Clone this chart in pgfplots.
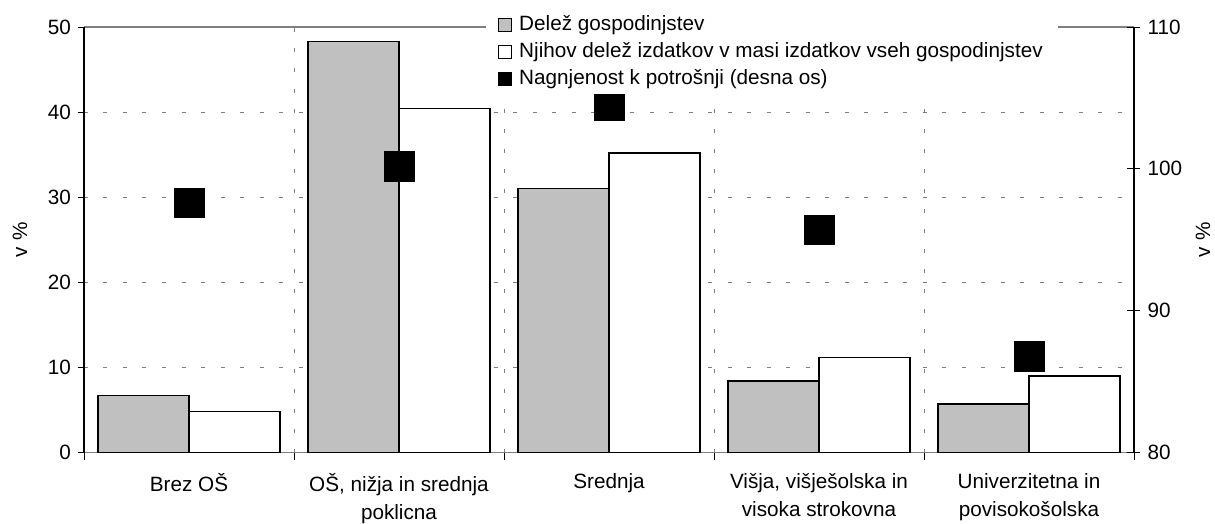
\documentclass[border=0pt]{standalone}
\usepackage{pgfplots}
\pgfplotsset{compat=1.18}
\usepackage{fontspec}
\setmainfont{Liberation Sans}
\definecolor{barGrey}{HTML}{C0C0C0}
\definecolor{gridGrey}{HTML}{7F7F7F}
\newcommand{\chfont}{\fontsize{20.7}{28}\selectfont}
\begin{document}
\chfont
\begin{tikzpicture}[font=\chfont]
\useasboundingbox (-84pt,-70.5pt) rectangle (1131pt,452.5pt);
\begin{axis}[
  scale only axis, width=1050pt, height=425.5pt,
  xmin=-0.5, xmax=4.5, ymin=0, ymax=50,
  axis x line*=box, axis y line*=left,
  axis line style={-},
  every outer x axis line/.append style={-, gridGrey, line width=1.2pt},
  every outer y axis line/.append style={-, black, line width=1.2pt},
  xtick={0,1,2,3,4},
  xticklabels={Brez OŠ, {OŠ, nižja in srednja\\poklicna}, Srednja, {Višja, višješolska in\\visoka strokovna}, {Univerzitetna in\\povisokošolska}},
  xtick pos=bottom, ytick pos=left,
  major x tick style={draw=none},
  minor xtick={-0.5,0.5,1.5,2.5,3.5,4.5},
  minor tick length=7pt,
  minor x tick style={black, line width=0.8pt},
  xminorgrids,
  minor x grid style={dash pattern=on 4pt off 16pt, gridGrey, line width=0.8pt},
  ytick={0,10,20,30,40,50},
  ymajorgrids,
  major y grid style={dash pattern=on 4pt off 15.5pt, gridGrey, line width=0.8pt},
  major tick length=6pt,
  major y tick style={black, line width=0.8pt},
  tick align=outside,
  /pgf/number format/assume math mode=true,
  tick label style={font=\chfont},
  xticklabel style={align=center, yshift=-8pt},
  ylabel={v \%},
  ylabel style={at={(axis description cs:-0.061,0.5)}, anchor=center, inner sep=0pt},
]
\addplot[ybar, bar width=91pt, bar shift=-45.5pt, fill=barGrey, draw=black, line width=1.5pt]
  coordinates {(0,6.7) (1,48.3) (2,31.0) (3,8.4) (4,5.7)};
\addplot[ybar, bar width=91pt, bar shift=45.5pt, fill=white, draw=black, line width=1.5pt]
  coordinates {(0,4.8) (1,40.4) (2,35.2) (3,11.15) (4,9.0)};
\end{axis}
\begin{axis}[
  scale only axis, width=1050pt, height=425.5pt,
  xmin=-0.5, xmax=4.5, ymin=80, ymax=110,
  axis x line=none, axis y line*=right,
  axis line style={-},
  every outer y axis line/.append style={-, black, line width=1.2pt},
  ytick={80,90,100,110},
  tick align=center,
  major tick length=13pt,
  major y tick style={black, line width=0.8pt},
  /pgf/number format/assume math mode=true,
  tick label style={font=\chfont},
  ylabel={v \%},
  ylabel style={at={(axis description cs:1.0657,0.5)}, anchor=center, inner sep=0pt},
  legend image code/.code={\draw[#1] (0pt,-6.5pt) rectangle (13pt,6.5pt); \path (17pt,0pt);},
  legend style={at={(axis description cs:0.3829,1.042)}, anchor=north west,
    draw=none, fill=white, inner xsep=12pt, inner ysep=2pt,
    font=\chfont, row sep=0pt,
    nodes={inner sep=3pt, text height=16pt, text depth=5pt}},
  legend cell align=left,
]
\addlegendimage{fill=barGrey, draw=black, line width=1pt}
\addlegendimage{fill=white, draw=black, line width=1pt}
\addlegendimage{fill=black, draw=black, line width=1pt}
\addplot[only marks, mark=square*, mark size=14.75pt, black, forget plot]
  coordinates {(0,97.6) (1,100.2) (2,104.5) (3,95.7) (4,86.8)};
\legend{Delež gospodinjstev, Njihov delež izdatkov v masi izdatkov vseh gospodinjstev, Nagnjenost k potrošnji (desna os)}
\end{axis}
\end{tikzpicture}
\end{document}
